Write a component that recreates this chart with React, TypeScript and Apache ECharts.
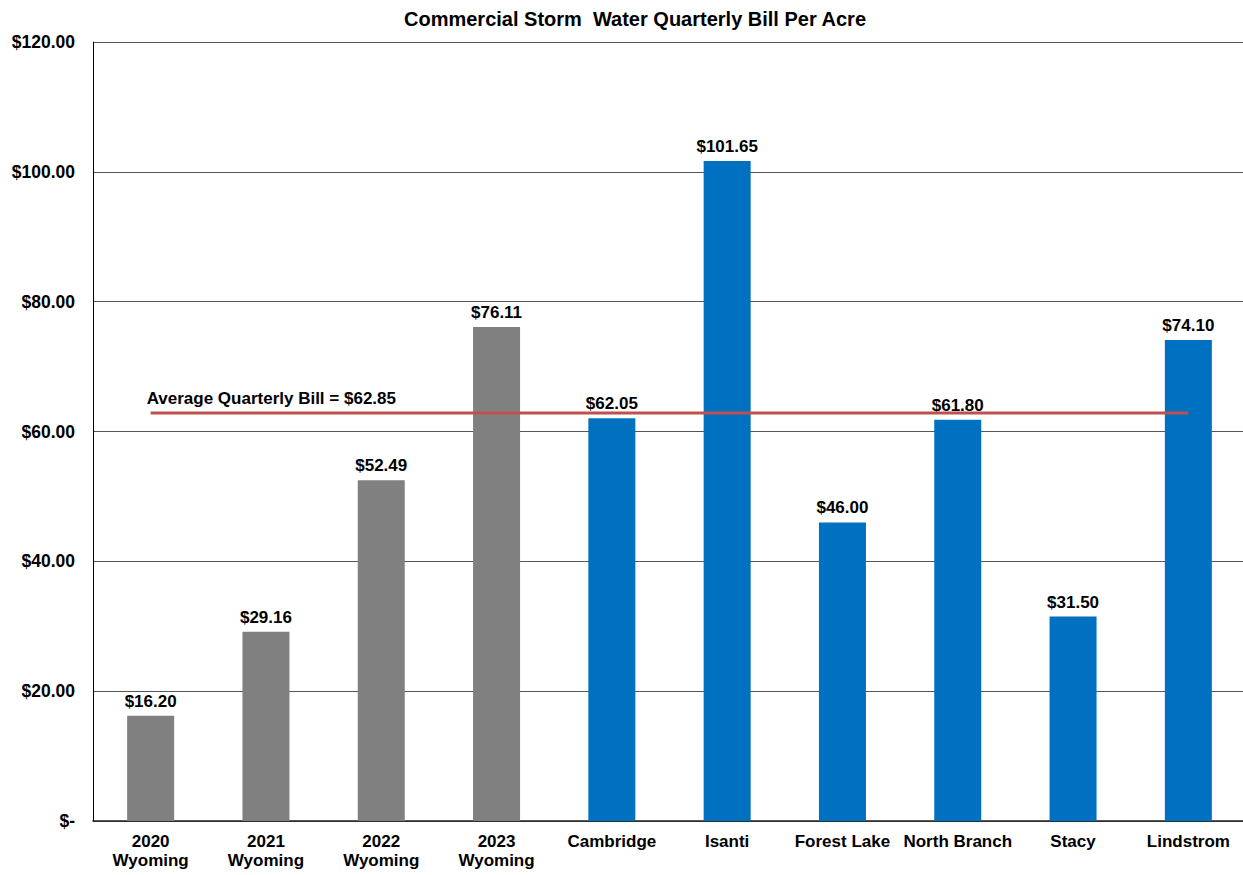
import React, { useEffect, useRef } from "react";
import * as echarts from "echarts";

// Bill per acre by community
const categories = [
  "2020\nWyoming",
  "2021\nWyoming",
  "2022\nWyoming",
  "2023\nWyoming",
  "Cambridge",
  "Isanti",
  "Forest Lake",
  "North Branch",
  "Stacy",
  "Lindstrom",
];
const billValues = [16.2, 29.16, 52.49, 76.11, 62.05, 101.65, 46.0, 61.8, 31.5, 74.1];
// Wyoming history bars are gray, peer cities blue
const isWyoming = [true, true, true, true, false, false, false, false, false, false];
const averageBill = 62.85;

const FONT = "'Liberation Sans', Arial, Helvetica, sans-serif";

const money = (v: number) => "$" + v.toFixed(2);

export default function App() {
  const ref = useRef<HTMLDivElement>(null);

  useEffect(() => {
    if (!ref.current) return;
    const chart = echarts.init(ref.current, null, { renderer: "svg" });
    chart.setOption({
      animation: false,
      backgroundColor: "#ffffff",
      title: {
        text: "Commercial Storm  Water Quarterly Bill Per Acre",
        left: 630,
        top: 4,
        textAlign: "center",
        textStyle: { fontFamily: FONT, fontSize: 20, fontWeight: "bold", color: "#000" },
      },
      // plot area runs slightly past the visible right edge
      grid: { left: 93, right: 0, top: 42, bottom: 54, containLabel: false },
      xAxis: {
        type: "category",
        data: categories,
        boundaryGap: true,
        axisLine: { show: true, lineStyle: { color: "#222", width: 1.5 } },
        axisTick: { show: false },
        axisLabel: {
          interval: 0,
          margin: 11,
          fontFamily: FONT,
          fontSize: 17,
          fontWeight: "bold",
          color: "#000",
          lineHeight: 19,
        },
      },
      yAxis: {
        type: "value",
        min: 0,
        max: 120,
        interval: 20,
        axisLine: { show: true, lineStyle: { color: "#000", width: 1 } },
        axisTick: { show: false },
        splitLine: { show: true, lineStyle: { color: "#555", width: 1 } },
        axisLabel: {
          margin: 18,
          fontFamily: FONT,
          fontSize: 17.5,
          fontWeight: "bold",
          color: "#000",
          formatter: (v: number) => (v === 0 ? "$-" : money(v)),
        },
      },
      series: [
        {
          type: "bar",
          barWidth: 47,
          data: billValues.map((v, i) => ({
            value: v,
            itemStyle: { color: isWyoming[i] ? "#808080" : "#0070C0" },
          })),
          label: {
            show: true,
            position: "top",
            distance: 6,
            fontFamily: FONT,
            fontSize: 17,
            fontWeight: "bold",
            color: "#000",
            formatter: (p: any) => money(p.value),
          },
          z: 2,
        },
        {
          type: "line",
          symbol: "circle",
          symbolSize: 0,
          showSymbol: true,
          data: categories.map((_, i) =>
            i === 0
              ? {
                  value: averageBill,
                  label: {
                    show: true,
                    position: "top",
                    align: "left",
                    offset: [-4, 0],
                    distance: 6,
                    fontFamily: FONT,
                    fontSize: 17,
                    fontWeight: "bold",
                    color: "#000",
                    formatter: () => "Average Quarterly Bill = " + money(averageBill),
                  },
                }
              : averageBill
          ),
          lineStyle: { color: "#C0504D", width: 3 },
          z: 5,
        },
      ],
    });
    return () => chart.dispose();
  }, []);

  return (
    <div
      style={{
        position: "absolute",
        left: 0,
        top: 0,
        width: 1243,
        height: 875,
        overflow: "hidden",
      }}
    >
      <div ref={ref} style={{ width: 1246, height: 875 }} />
    </div>
  );
}
